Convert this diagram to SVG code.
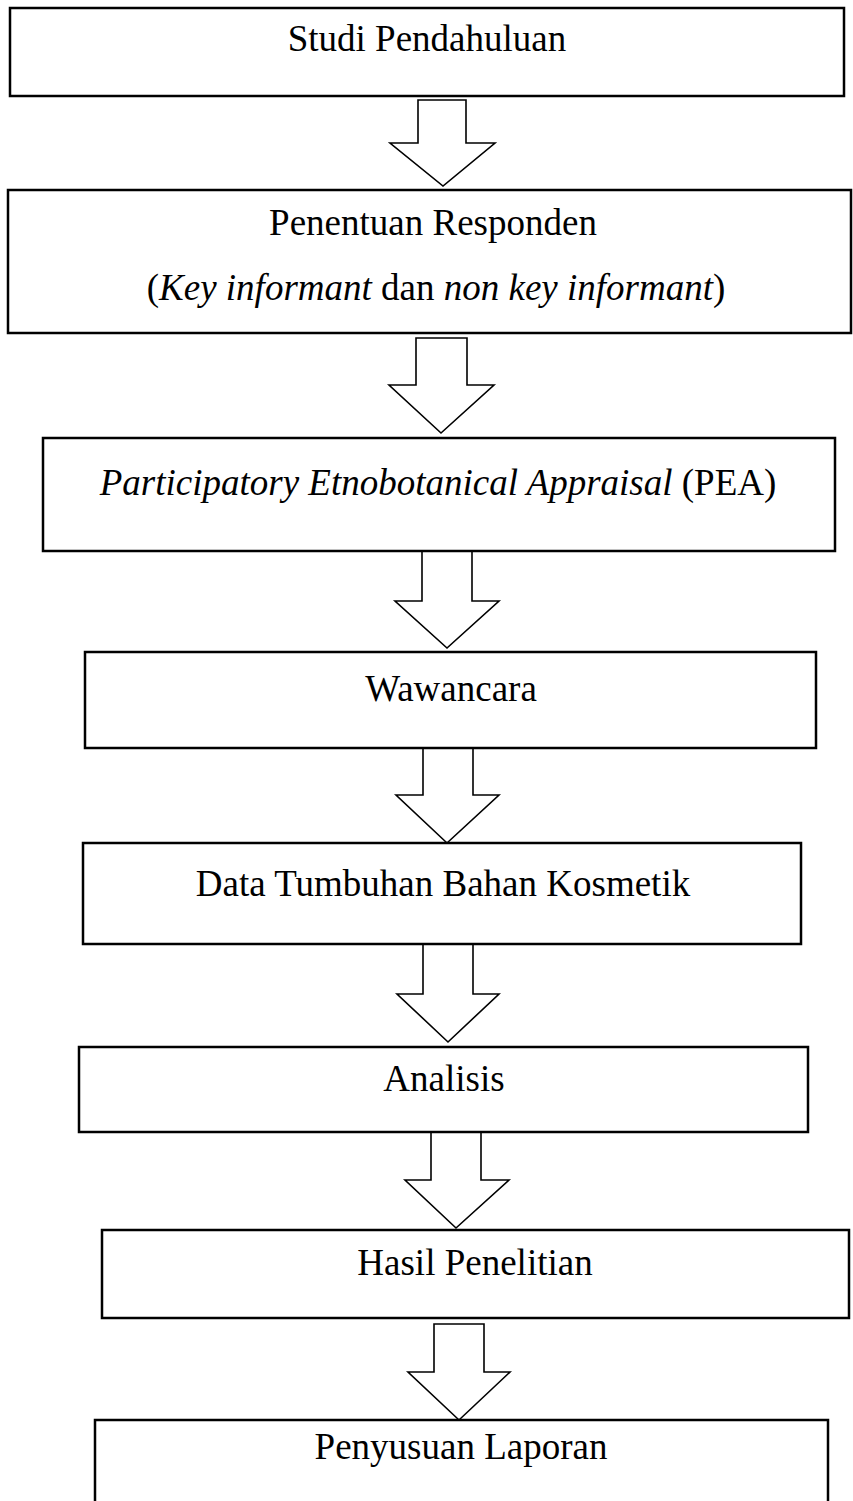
<svg xmlns="http://www.w3.org/2000/svg" width="853" height="1501" viewBox="0 0 853 1501">
<style>
.box{fill:#fff;stroke:#000;stroke-width:2.5}
.arr{fill:#fff;stroke:#000;stroke-width:1.6;stroke-linejoin:miter}
.t{font-family:"Liberation Serif","Times New Roman",serif;font-size:37px;fill:#000;text-anchor:middle}
.i{font-style:italic}
</style>
<rect width="853" height="1501" fill="#fff"/>
<g id="connectors">
<path class="arr" d="M418,100 H466 V143 H495 L443,186 L390,143 H418 Z"/>
<path class="arr" d="M416,338 H467 V385 H494 L441,433 L389,385 H416 Z"/>
<path class="arr" d="M422,551 H472 V601 H499 L447,648 L395,601 H422 Z"/>
<path class="arr" d="M423,748 H473 V795 H499 L447,843 L396,795 H423 Z"/>
<path class="arr" d="M423,944 H473 V994 H499 L448,1042 L397,994 H423 Z"/>
<path class="arr" d="M431,1132 H481 V1180 H509 L456,1228 L405,1180 H431 Z"/>
<path class="arr" d="M434,1324 H484 V1372 H510 L459,1420 L408,1372 H434 Z"/>
</g>
<g id="n1"><rect class="box" x="10" y="8" width="834" height="88"/><text class="t" x="427" y="51">Studi Pendahuluan</text></g>
<g id="n2"><rect class="box" x="8" y="190" width="843" height="143"/><text class="t" x="433" y="235">Penentuan Responden</text><text class="t" x="436" y="300">(<tspan class="i">Key informant</tspan> dan <tspan class="i">non key informant</tspan>)</text></g>
<g id="n3"><rect class="box" x="43" y="438" width="792" height="113"/><text class="t" x="438" y="495"><tspan class="i">Participatory Etnobotanical Appraisal</tspan> (PEA)</text></g>
<g id="n4"><rect class="box" x="85" y="652" width="731" height="96"/><text class="t" x="451" y="701">Wawancara</text></g>
<g id="n5"><rect class="box" x="83" y="843" width="718" height="101"/><text class="t" x="443" y="896">Data Tumbuhan Bahan Kosmetik</text></g>
<g id="n6"><rect class="box" x="79" y="1047" width="729" height="85"/><text class="t" x="444" y="1091">Analisis</text></g>
<g id="n7"><rect class="box" x="102" y="1230" width="747" height="88"/><text class="t" x="475" y="1275">Hasil Penelitian</text></g>
<g id="n8"><rect class="box" x="95" y="1420" width="733" height="100"/><text class="t" x="461" y="1459">Penyusuan Laporan</text></g>
</svg>
